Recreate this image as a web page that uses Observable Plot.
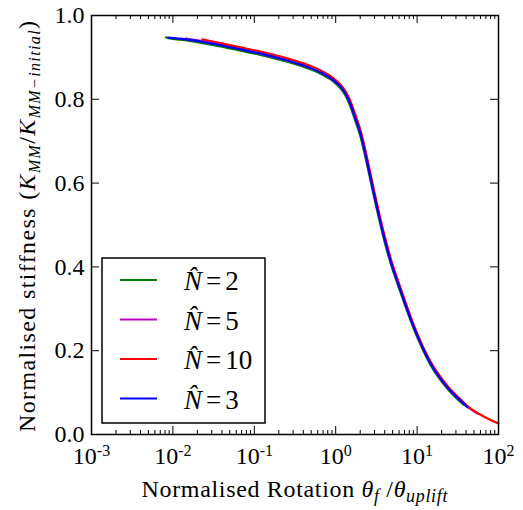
<!DOCTYPE html>
<html><head><meta charset="utf-8">
<script src="https://cdn.jsdelivr.net/npm/d3@7"></script>
<script src="https://cdn.jsdelivr.net/npm/@observablehq/plot@0.6"></script>
<style>body{margin:0;background:#fff} svg, svg text, svg tspan {font-family: "Liberation Serif", "Times New Roman", serif !important;}</style>
</head><body><div id="chart"></div>
<script>
// Normalised rotation (shared x positions)
const rotation = [0.0082, 0.0088, 0.0143, 0.0231, 0.0385, 0.0677, 0.119, 0.21, 0.37, 0.651, 0.94, 1.146, 1.319, 1.52, 1.751, 2.017, 2.323, 2.677, 3.083, 3.551, 4.091, 4.712, 6.254, 9.03, 14.61, 23.63, 37.16, 41.6, 56.8, 73.3, 100];
// Normalised stiffness per series (null = not drawn)
const stiffN2 = [0.948, 0.946, 0.941, 0.934, 0.926, 0.916, 0.906, 0.894, 0.880, 0.861, 0.842, 0.826, 0.809, 0.782, 0.747, 0.711, 0.661, 0.606, 0.551, 0.500, 0.452, 0.410, 0.339, 0.254, 0.166, 0.109, 0.071, null, null, null, null];
const stiffN5 = [null, null, 0.945, 0.939, 0.931, 0.920, 0.909, 0.897, 0.883, 0.864, 0.845, 0.830, 0.814, 0.788, 0.754, 0.718, 0.668, 0.613, 0.558, 0.506, 0.458, 0.415, 0.344, 0.258, 0.170, 0.112, 0.074, 0.066, 0.049, null, null];
const stiffN10 = [null, null, null, 0.943, 0.934, 0.924, 0.914, 0.902, 0.888, 0.869, 0.850, 0.835, 0.819, 0.795, 0.762, 0.726, 0.677, 0.622, 0.567, 0.514, 0.466, 0.422, 0.350, 0.263, 0.174, 0.116, 0.077, 0.068, 0.050, 0.038, 0.026];
const stiffN3 = [null, 0.947, 0.943, 0.937, 0.929, 0.919, 0.909, 0.897, 0.883, 0.864, 0.845, 0.830, 0.814, 0.788, 0.754, 0.718, 0.668, 0.613, 0.558, 0.506, 0.458, 0.415, 0.344, 0.258, 0.170, 0.112, 0.074, 0.065, null, null, null];

const seriesNames = ["2", "5", "10", "3"];
const seriesColors = ["#008000", "#bf00bf", "#ff0000", "#0000ff"];
const xMajorTicks = [0.001, 0.01, 0.1, 1, 10, 100];
const xTickExponents = ["-3", "-2", "-1", "0", "1", "2"];
const yTicks = [0, 0.2, 0.4, 0.6, 0.8, 1.0];
const yTickLabels = ["0.0", "0.2", "0.4", "0.6", "0.8", "1.0"];

const W = 523, H = 510, mL = 91, mR = 25, mT = 15, mB = 76;
const plotW = W - mL - mR, plotH = H - mT - mB;

const xMinorTicks = [];
for (let e = -3; e < 2; e++) for (let m = 2; m <= 9; m++) xMinorTicks.push(m * Math.pow(10, e));

const allSeries = [stiffN2, stiffN5, stiffN10, stiffN3];
const lineMarks = allSeries.map((ys, i) => {
  const rows = [];
  ys.forEach((y, j) => { if (y != null) rows.push({x: rotation[j], y}); });
  return Plot.line(rows, {x: "x", y: "y", stroke: seriesColors[i], strokeWidth: 2.2, curve: "monotone-x"});
});

const fontFam = "Liberation Serif";

const chart = Plot.plot({
  width: W, height: H,
  marginLeft: mL, marginRight: mR, marginTop: mT, marginBottom: mB,
  style: {fontSize: "24px", color: "black", background: "white"},
  x: {type: "log", domain: [0.001, 100]},
  y: {domain: [0, 1.0]},
  marks: [
    ...lineMarks,
    Plot.tickX(xMajorTicks, {x: d => d, stroke: "black", strokeWidth: 1, insetTop: plotH - 8}),
    Plot.tickX(xMajorTicks, {x: d => d, stroke: "black", strokeWidth: 1, insetBottom: plotH - 8}),
    Plot.tickX(xMinorTicks, {x: d => d, stroke: "black", strokeWidth: 1, insetTop: plotH - 4}),
    Plot.tickX(xMinorTicks, {x: d => d, stroke: "black", strokeWidth: 1, insetBottom: plotH - 4}),
    Plot.tickY(yTicks, {y: d => d, stroke: "black", strokeWidth: 1, insetRight: plotW - 8}),
    Plot.tickY(yTicks, {y: d => d, stroke: "black", strokeWidth: 1, insetLeft: plotW - 8}),
    Plot.axisX({ticks: xMajorTicks, tickSize: 0, tickPadding: 12, tickFormat: () => "10", label: null}),
    Plot.axisY({ticks: yTicks, tickSize: 0, tickPadding: 7, tickFormat: d => yTickLabels[yTicks.indexOf(d)], label: null}),
    Plot.frame({stroke: "black", strokeWidth: 1.5})
  ]
});

document.getElementById("chart").appendChild(chart);
const svgNode = chart.tagName.toLowerCase() === "svg" ? chart : chart.querySelector("svg");
const svg = d3.select(svgNode);
svg.attr("font-family", fontFam);

// superscript exponents on x tick labels
svg.selectAll('g[aria-label="x-axis tick label"] text').each(function(d, i) {
  const t = d3.select(this);
  t.text("10");
  t.append("tspan").attr("dy", "-0.45em").attr("font-size", "16px").text(xTickExponents[i]);
});

// x-axis title
const xl = svg.append("text").attr("x", mL + plotW / 2).attr("y", 497)
  .attr("text-anchor", "middle").attr("font-size", "24px").attr("fill", "black")
  .attr("textLength", 306).attr("lengthAdjust", "spacing");
xl.append("tspan").text("Normalised Rotation ");
xl.append("tspan").attr("font-style", "italic").text("θ");
xl.append("tspan").attr("font-style", "italic").attr("font-size", "18px").attr("dy", 5).text("f");
xl.append("tspan").attr("dy", -5).text(" /");
xl.append("tspan").attr("font-style", "italic").text("θ");
xl.append("tspan").attr("font-style", "italic").attr("font-size", "18px").attr("dy", 5).text("uplift");

// y-axis title
const yl = svg.append("text").attr("transform", `translate(35,${mT + plotH / 2 + 2}) rotate(-90)`)
  .attr("text-anchor", "middle").attr("font-size", "24px").attr("fill", "black")
  .attr("textLength", 411).attr("lengthAdjust", "spacing");
yl.append("tspan").text("Normalised stiffness (");
yl.append("tspan").attr("font-style", "italic").text("K");
yl.append("tspan").attr("font-style", "italic").attr("font-size", "16px").attr("dy", 5).text("MM");
yl.append("tspan").attr("dy", -5).text("/");
yl.append("tspan").attr("font-style", "italic").text("K");
yl.append("tspan").attr("font-style", "italic").attr("font-size", "16px").attr("dy", 5).text("MM−initial");
yl.append("tspan").attr("dy", -5).text(")");

// legend
const lg = svg.append("g").attr("text-anchor", "start");
lg.append("rect").attr("x", 102).attr("y", 258).attr("width", 163).attr("height", 165)
  .attr("fill", "white").attr("stroke", "black").attr("stroke-width", 1.5);
seriesNames.forEach((name, i) => {
  const cy = 280 + i * 39.5;
  lg.append("line").attr("x1", 120).attr("x2", 157).attr("y1", cy).attr("y2", cy)
    .attr("stroke", seriesColors[i]).attr("stroke-width", 2);
  const t = lg.append("text").attr("x", 184).attr("y", cy + 10).attr("font-size", "27px")
    .attr("fill", "black").attr("text-anchor", "start");
  t.append("tspan").attr("font-style", "italic").text("N\u0302");
  t.append("tspan").attr("dx", 4).text("=");
  t.append("tspan").attr("dx", 4).text(name);
});
</script>
</body></html>
